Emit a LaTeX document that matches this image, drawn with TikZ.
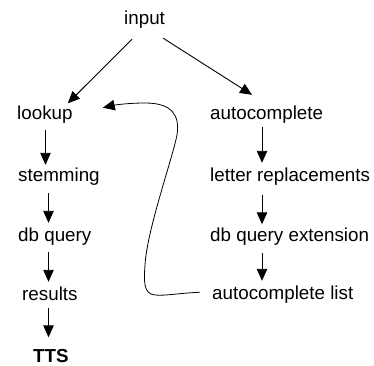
\documentclass[tikz,border=0pt]{standalone}
\usepackage{fontspec}
\setmainfont{Liberation Sans}
\usetikzlibrary{arrows.meta}
\begin{document}
\begin{tikzpicture}[x=1pt,y=-1pt,
  lbl/.style={anchor=base west,inner sep=0pt,text height=13.5pt,text depth=4pt,font=\fontsize{18.8}{22}\selectfont},
  arr/.style={line width=0.9pt,-{Triangle[length=12pt,width=10.5pt]}},
  varr/.style={arr,shorten <=5pt,shorten >=4pt}]
\path[use as bounding box,fill=white] (0,0) rectangle (374,365);
\node[lbl] (input) at (124,24) {input};
\node[lbl] (lookup) at (17,119.5) {lookup};
\node[lbl] (stem) at (18,181) {stemming};
\node[lbl] (dbq) at (18,241) {db query};
\node[lbl] (res) at (22,300) {results};
\node[lbl,font=\fontsize{18.8}{22}\selectfont\bfseries] (tts) at (33,362) {TTS};
\node[lbl] (ac) at (210,119) {autocomplete};
\node[lbl] (lr) at (210,181) {letter replacements};
\node[lbl] (dbx) at (210,241) {db query extension};
\node[lbl] (acl) at (212,299) {autocomplete list};
\coordinate (L1) at (45.5,0);
\coordinate (L2) at (48.5,0);
\coordinate (R) at (262,0);
% diagonals
\draw[arr] ([shift={(8,11)}]input.south west) -- ([shift={(-5,-2.5)}]lookup.north east);
\draw[arr] ([shift={(-2,10)}]input.south east) -- ([shift={(42,-10.5)}]ac.north west);
% left column
\draw[varr,shorten <=6.5pt,shorten >=2.5pt] (L1 |- lookup.south) -- (L1 |- stem.north);
\draw[varr,shorten <=8pt,shorten >=4.5pt] (L2 |- stem.south) -- (L2 |- dbq.north);
\draw[varr,shorten <=7pt,shorten >=4.5pt] (L2 |- dbq.south) -- (L2 |- res.north);
\draw[varr,shorten <=4pt,shorten >=11pt] (L2 |- res.south) -- (L2 |- tts.north);
% right column
\draw[varr,shorten <=4pt,shorten >=4.5pt] (R |- ac.south) -- (R |- lr.north);
\draw[varr,shorten <=10pt,shorten >=3pt] (R |- lr.south) -- (R |- dbx.north);
\draw[varr,shorten <=8pt,shorten >=4.5pt] (R |- dbx.south) -- (R |- acl.north);
% feedback curve
\draw[arr,line width=0.8pt] ([xshift=-12pt,yshift=2pt]acl.west)
  .. controls (180,293) and (165,296) .. (155,295)
  .. controls (143,294) and (144,280) .. (145,265)
  .. controls (147,230) and (172,160) .. (177,135)
  .. controls (180,115) and (172,103) .. (145,103)
  .. controls (128,103) and (115,105) .. ([shift={(30,-7)}]lookup.east);
\end{tikzpicture}
\end{document}
